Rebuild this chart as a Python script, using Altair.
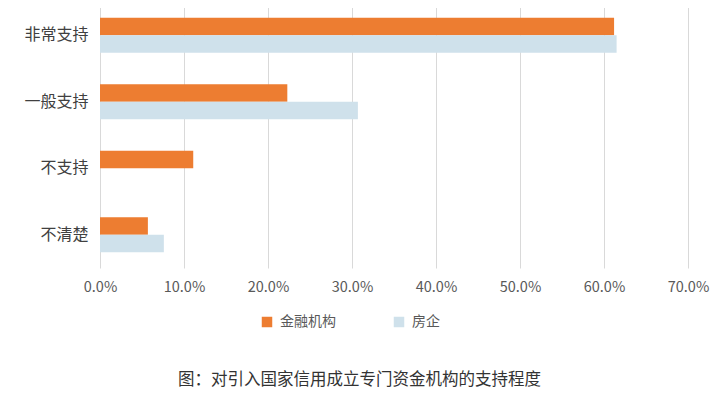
import altair as alt
import pandas as pd

categories = ["非常支持", "一般支持", "不支持", "不清楚"]
series = ["金融机构", "房企"]
finance = [61.2, 22.3, 11.1, 5.7]
developers = [61.5, 30.7, 0.0, 7.6]
ticks = [0, 10, 20, 30, 40, 50, 60, 70]
title_text = "图：对引入国家信用成立专门资金机构的支持程度"

rows = []
for c, v in zip(categories, finance):
    rows.append({"cat": c, "series": series[0], "value": v})
for c, v in zip(categories, developers):
    rows.append({"cat": c, "series": series[1], "value": v})
df = pd.DataFrame(rows)

FONT = "Noto Sans CJK SC"

chart = alt.Chart(df).mark_bar().encode(
    y=alt.Y("cat:N", sort=categories, title=None,
            scale=alt.Scale(paddingInner=0.47, paddingOuter=0.235),
            axis=alt.Axis(domain=False, ticks=False, grid=False, labelPadding=12,
                          labelFontSize=16, labelColor="#404040", labelFont=FONT)),
    yOffset=alt.YOffset("series:N", sort=series, scale=alt.Scale(paddingInner=0)),
    x=alt.X("value:Q", title=None,
            scale=alt.Scale(domain=[0, 70], nice=False),
            axis=alt.Axis(values=ticks, domain=False, ticks=False, grid=True,
                          gridColor="#d9d9d9", gridWidth=1, labelPadding=12,
                          labelFlush=False,
                          labelFontSize=14.5, labelColor="#595959", labelFont=FONT,
                          labelExpr="format(datum.value, '.1f') + '%'")),
    color=alt.Color("series:N", sort=series, title=None,
                    scale=alt.Scale(domain=series, range=["#ED7D31", "#cfe1eb"]),
                    legend=alt.Legend(orient="none", legendX=160, legendY=313,
                                      direction="horizontal", symbolType="square",
                                      symbolSize=110, symbolStrokeWidth=0,
                                      labelFontSize=14, labelColor="#595959",
                                      labelFont=FONT, columnPadding=56,
                                      labelOffset=6)),
).properties(
    width=588,
    height=266,
    padding={"left": 92, "top": -6, "right": 23, "bottom": 122},
    autosize=alt.AutoSizeParams(type="none"),
    title=alt.TitleParams(title_text, orient="bottom", anchor="middle", frame="bounds",
                          fontSize=16.5, font=FONT, fontWeight="normal",
                          color="#333333", offset=43, dx=-7),
).configure_view(stroke=None)

chart.save("out.html", embed_options={"renderer": "svg", "actions": False})
